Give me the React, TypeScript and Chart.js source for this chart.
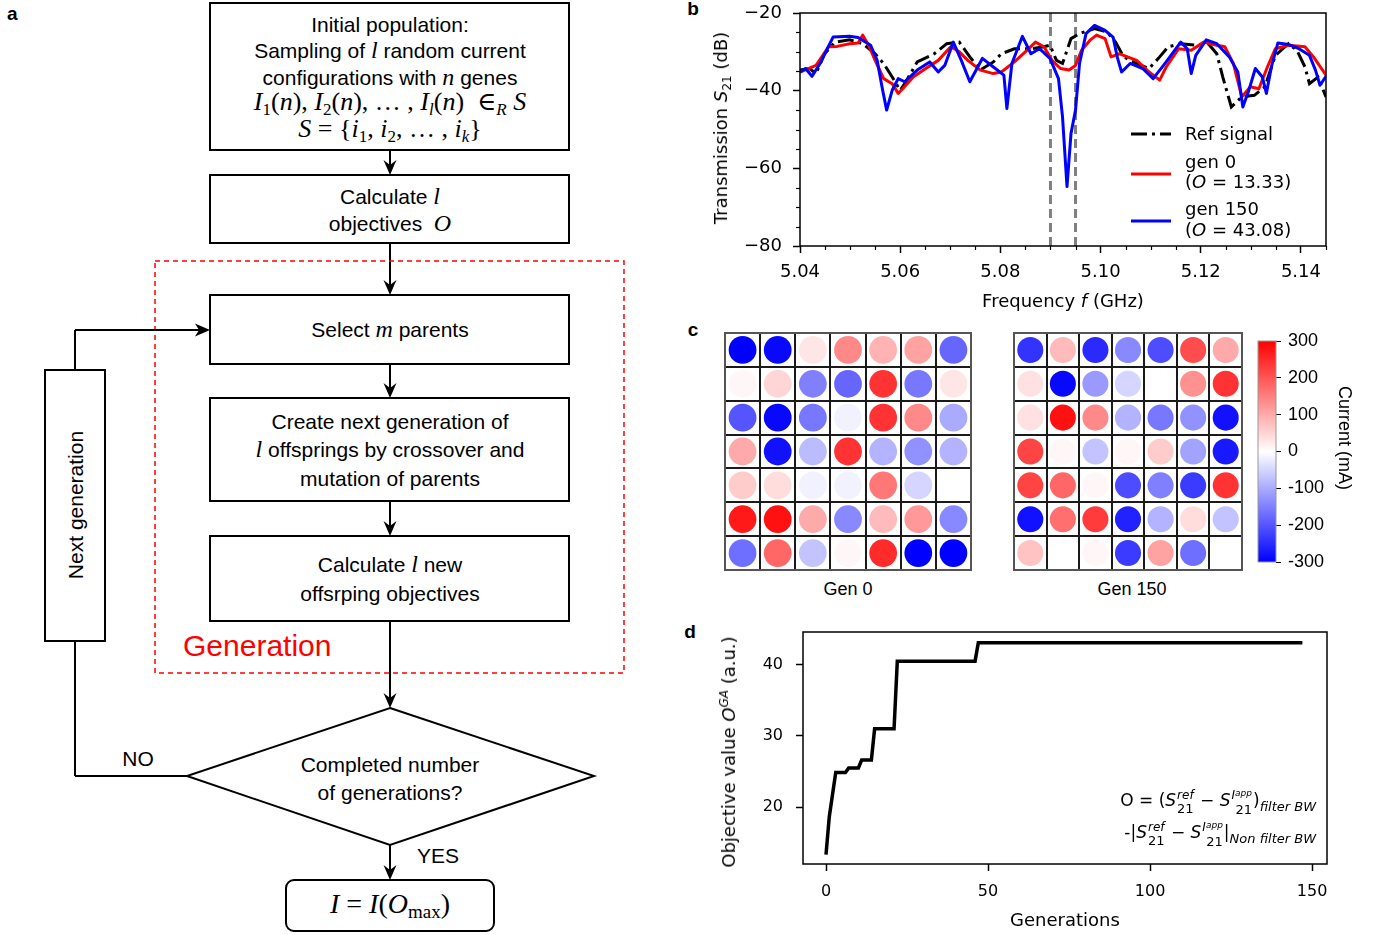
import React, { useEffect, useRef } from "react";
import { Chart, registerables } from "chart.js";
Chart.register(...registerables);

const DV = "'DejaVu Sans', 'Liberation Sans', sans-serif";
const AR = "'Liberation Sans', Arial, Helvetica, sans-serif";
const SERIF = "'Liberation Serif', 'DejaVu Serif', serif";

// ---------------- Panel b : transmission spectra ----------------
const refFreq = [5.04, 5.0419, 5.0432, 5.0449, 5.047, 5.0499, 5.0525, 5.055, 5.0567, 5.0584, 5.06, 5.0609, 5.0634, 5.0668, 5.0693, 5.0718, 5.0739, 5.076, 5.0786, 5.0802, 5.0828, 5.0861, 5.0887, 5.0899, 5.0912, 5.0924, 5.0941, 5.0958, 5.0988, 5.1013, 5.103, 5.1046, 5.1072, 5.1097, 5.1118, 5.1135, 5.116, 5.119, 5.1215, 5.1232, 5.1244, 5.1261, 5.1282, 5.1307, 5.1328, 5.1349, 5.1375, 5.1392, 5.1408, 5.1417, 5.1434, 5.145];
const refS21 = [-34.7, -34.3, -35.6, -30.5, -27.5, -26.9, -27.9, -30.5, -33.0, -36.5, -39.9, -38.2, -32.6, -30.5, -27.9, -27.5, -31.3, -34.7, -32.6, -30.5, -29.2, -29.2, -28.7, -28.3, -32.2, -33.0, -26.6, -25.3, -24.0, -24.9, -27.5, -31.3, -33.0, -34.3, -31.3, -28.7, -27.9, -28.3, -27.9, -30.5, -36.5, -44.2, -41.6, -41.2, -39.0, -30.9, -27.9, -29.6, -33.9, -38.2, -36.5, -41.6];

const gen0Freq = [5.04, 5.0432, 5.0457, 5.0474, 5.0499, 5.0516, 5.0525, 5.0537, 5.055, 5.0567, 5.0584, 5.0596, 5.0605, 5.0626, 5.0651, 5.0676, 5.0701, 5.0718, 5.0735, 5.076, 5.0786, 5.0802, 5.0828, 5.0853, 5.087, 5.0887, 5.0903, 5.092, 5.0937, 5.095, 5.0962, 5.0979, 5.0992, 5.1009, 5.1021, 5.1038, 5.1072, 5.1097, 5.1118, 5.1131, 5.1156, 5.1181, 5.1206, 5.1232, 5.1248, 5.1265, 5.1282, 5.1299, 5.1316, 5.1333, 5.1349, 5.1375, 5.1408, 5.1425, 5.145];
const gen0S21 = [-35.2, -33.5, -28.7, -28.6, -27.9, -27.7, -25.7, -28.3, -32.2, -36.9, -38.2, -40.7, -39.5, -36.5, -34.3, -32.2, -28.7, -30.0, -32.2, -34.7, -35.6, -35.2, -32.6, -29.6, -27.5, -28.7, -32.2, -34.3, -34.7, -33.5, -29.6, -27.0, -25.7, -26.6, -31.3, -30.5, -32.2, -35.2, -37.3, -33.9, -29.2, -29.6, -27.5, -28.3, -28.7, -33.0, -41.6, -39.0, -39.5, -33.9, -29.2, -28.3, -28.7, -31.3, -36.0];

const gen150Freq = [5.04, 5.0411, 5.0424, 5.044, 5.0466, 5.0499, 5.0516, 5.0541, 5.0554, 5.0565, 5.0573, 5.0584, 5.0596, 5.0609, 5.0634, 5.0659, 5.0676, 5.0689, 5.0706, 5.0722, 5.0739, 5.0764, 5.0786, 5.0807, 5.0813, 5.0823, 5.0844, 5.0861, 5.0878, 5.0899, 5.0916, 5.0924, 5.0933, 5.0941, 5.095, 5.0958, 5.0971, 5.0988, 5.1009, 5.1025, 5.1034, 5.1042, 5.1059, 5.1084, 5.1105, 5.1131, 5.116, 5.1173, 5.1181, 5.119, 5.1211, 5.1232, 5.1257, 5.1274, 5.1284, 5.1295, 5.1309, 5.1323, 5.1331, 5.1341, 5.1354, 5.1375, 5.1396, 5.1417, 5.1429, 5.1438, 5.145];
const gen150S21 = [-35.2, -34.3, -36.3, -33.0, -26.2, -26.0, -26.3, -28.3, -32.2, -39.9, -45.0, -39.9, -36.9, -37.7, -34.7, -32.6, -35.2, -33.5, -27.5, -32.2, -37.7, -31.7, -33.9, -36.0, -44.6, -33.0, -26.0, -30.5, -29.2, -31.7, -36.9, -46.7, -64.7, -51.0, -45.0, -33.0, -25.3, -23.2, -24.5, -26.2, -31.7, -35.2, -33.0, -34.3, -36.9, -32.6, -27.5, -29.2, -35.6, -30.9, -26.9, -27.9, -31.3, -35.2, -44.2, -40.3, -34.3, -36.5, -40.7, -33.9, -27.7, -28.1, -29.2, -30.9, -34.7, -38.6, -36.3];

const filterEdges = [5.09, 5.095];
const freqRange = [5.04, 5.145];
const freqTicks = [5.04, 5.06, 5.08, 5.1, 5.12, 5.14];
const s21Range = [-80, -20];
const s21Ticks = [-80, -60, -40, -20];
const legendNames = ["Ref signal", "gen 0", "gen 150"];
const legendScores = ["", "13.33", "43.08"];

// ---------------- Panel c : current maps (mA) ----------------
const gen0Currents = [
  [-300, -290, 30, 140, 90, 110, -180],
  [10, 50, -150, -180, 240, -160, 30],
  [-200, -290, -160, -15, 240, 140, -100],
  [100, -280, -80, 240, -90, -130, -90],
  [60, 40, -15, -15, 160, -50, 0],
  [270, 280, 100, -140, 80, 120, -140],
  [-170, 180, -70, 10, 250, -300, -300],
];
const gen150Currents = [
  [-240, 80, -250, -140, -210, 210, 100],
  [35, -290, -120, -50, 0, 130, 240],
  [35, 280, 140, -90, -160, -130, -280],
  [220, 10, -70, 10, 60, -110, -270],
  [220, 180, 10, -210, -150, -230, 240],
  [-280, 170, 230, -260, -90, 40, -70],
  [70, 0, 10, -230, 110, -170, 0],
];
const currentRange = [-300, 300];
const currentTicks = [-300, -200, -100, 0, 100, 200, 300];

// ---------------- Panel d : objective vs generation ----------------
const generations = [0, 1, 3, 6, 7, 10, 11, 14, 15, 21, 22, 46, 47, 147];
const objectiveValues = [13.33, 18.6, 24.85, 24.85, 25.5, 25.5, 26.6, 26.6, 31.0, 31.0, 40.5, 40.5, 43.08, 43.08];
const genRange = [-7.1, 154.6];
const genTicks = [0, 50, 100, 150];
const objRange = [12.0, 44.6];
const objTicks = [20, 30, 40];

// ---------------- helpers ----------------
const zip = (xs: number[], ys: number[]) => xs.map((x, i) => ({ x, y: ys[i] }));
const fmtMinus = (v: number) => (v < 0 ? "\u2212" + Math.abs(v) : String(v));
const refDash = [16, 5, 3, 5];

function zeroPad(s: any) {
  s.paddingTop = 0;
  s.paddingBottom = 0;
  s.paddingLeft = 0;
  s.paddingRight = 0;
}

function bwr(v: number) {
  const t = Math.max(-1, Math.min(1, v / currentRange[1]));
  if (t >= 0) {
    const c = Math.round(255 * (1 - t));
    return `rgb(255,${c},${c})`;
  }
  const c = Math.round(255 * (1 + t));
  return `rgb(${c},${c},255)`;
}

const framePlugin = (lw: number, color: string) => ({
  id: "frame",
  afterDatasetsDraw(chart: any) {
    const { ctx, chartArea: a } = chart;
    ctx.save();
    ctx.strokeStyle = color;
    ctx.lineWidth = lw;
    ctx.strokeRect(a.left, a.top, a.right - a.left, a.bottom - a.top);
    ctx.restore();
  },
});

const minorTicksPlugin = {
  id: "minorTicks",
  afterDraw(chart: any) {
    const { ctx, chartArea: a, scales } = chart;
    ctx.save();
    ctx.strokeStyle = "#000";
    ctx.lineWidth = 1.2;
    const ys = scales.y;
    for (let v = s21Range[0]; v <= s21Range[1]; v += 5) {
      if (s21Ticks.includes(v)) continue;
      const p = Math.round(ys.getPixelForValue(v)) + 0.5;
      ctx.beginPath();
      ctx.moveTo(a.left - 4, p);
      ctx.lineTo(a.left, p);
      ctx.stroke();
    }
    const xs = scales.x;
    for (let k = 0; k <= 21; k++) {
      if (k % 4 === 0) continue;
      const v = freqRange[0] + k * 0.005;
      const p = Math.round(xs.getPixelForValue(v)) + 0.5;
      ctx.beginPath();
      ctx.moveTo(p, a.bottom);
      ctx.lineTo(p, a.bottom + 4);
      ctx.stroke();
    }
    ctx.restore();
  },
};

const legendPlugin = {
  id: "legendB",
  afterDraw(chart: any) {
    const { ctx, chartArea: a } = chart;
    const lx0 = a.right - 195;
    const lx1 = a.right - 155;
    const tx = a.right - 141;
    const items = [
      { color: "#000", dash: refDash, ly: a.top + 121, lines: [a.top + 122] },
      { color: "#ff0000", dash: [], ly: a.top + 161, lines: [a.top + 150, a.top + 170] },
      { color: "#0000ff", dash: [], ly: a.top + 208, lines: [a.top + 197, a.top + 218] },
    ];
    ctx.save();
    ctx.textBaseline = "middle";
    ctx.fillStyle = "#000";
    items.forEach((it, i) => {
      ctx.strokeStyle = it.color;
      ctx.lineWidth = 3;
      ctx.setLineDash(it.dash);
      ctx.beginPath();
      ctx.moveTo(lx0, it.ly);
      ctx.lineTo(lx1, it.ly);
      ctx.stroke();
      ctx.setLineDash([]);
      ctx.font = `18px ${DV}`;
      ctx.fillText(legendNames[i], tx, it.lines[0]);
      if (legendScores[i]) {
        let x = tx;
        const y = it.lines[1];
        ctx.font = `18px ${DV}`;
        ctx.fillText("(", x, y);
        x += ctx.measureText("(").width;
        ctx.font = `italic 18px ${DV}`;
        ctx.fillText("O", x, y);
        x += ctx.measureText("O").width;
        ctx.font = `18px ${DV}`;
        ctx.fillText(` = ${legendScores[i]})`, x, y);
      }
    });
    ctx.restore();
  },
};

function gridDataset(values: number[][], factor: number) {
  const pts: any[] = [];
  values.forEach((row, r) =>
    row.forEach((v, c) => pts.push({ x: c + 0.5, y: values.length - r - 0.5, v }))
  );
  return {
    data: pts,
    showLine: false,
    pointStyle: "circle",
    pointBorderWidth: 0,
    pointBackgroundColor: (ctx: any) => bwr(ctx.raw ? ctx.raw.v : 0),
    pointBorderColor: (ctx: any) => bwr(ctx.raw ? ctx.raw.v : 0),
    pointRadius: (ctx: any) => {
      const a = ctx.chart.chartArea;
      if (!a) return 10;
      return (Math.min(a.right - a.left, a.bottom - a.top) / values.length) * factor;
    },
  };
}

function gridOptions() {
  const n = gen0Currents.length;
  const axis = (isX: boolean) => ({
    type: "linear",
    min: 0,
    max: n,
    ticks: { display: false, stepSize: 1 },
    grid: { color: "#1a1a1a", lineWidth: 2, drawTicks: false },
    border: { display: false },
    afterFit: (s: any) => {
      zeroPad(s);
      if (isX) s.height = 0;
      else s.width = 0;
    },
  });
  return {
    animation: false,
    responsive: false,
    devicePixelRatio: 1,
    layout: { padding: 2, autoPadding: false },
    plugins: { legend: { display: false }, tooltip: { enabled: false } },
    scales: { x: axis(true), y: axis(false) },
  };
}

// ---------------- small text helpers ----------------
const Stack = ({ sup, sub }: any) => (
  <span
    style={{
      display: "inline-flex",
      flexDirection: "column",
      verticalAlign: "7px",
      lineHeight: "13px",
      fontSize: 13,
      marginLeft: 1,
      marginRight: 1,
    }}
  >
    <span style={{ fontStyle: "italic", fontSize: 12 }}>{sup}</span>
    <span>{sub}</span>
  </span>
);

const Iapp = () => (
  <span>
    I<span style={{ fontSize: 9, position: "relative", top: -3 }}>app</span>
  </span>
);

const M = ({ children, size = 24 }: any) => (
  <tspan style={{ fontFamily: SERIF, fontStyle: "italic", fontSize: size }}>{children}</tspan>
);

function Flowchart() {
  const MS = 26;
  const ln = (x1: number, y1: number, x2: number, y2: number) => (
    <line x1={x1} y1={y1} x2={x2} y2={y2} stroke="#000" strokeWidth={2} />
  );
  const arrowDown = (x: number, y1: number, y2: number) => (
    <g>
      {ln(x, y1, x, y2 - 8)}
      <path d={`M${x - 6.5},${y2 - 15} L${x},${y2} L${x + 6.5},${y2 - 15} L${x},${y2 - 10} Z`} fill="#000" />
    </g>
  );
  const box = (x: number, y: number, w: number, h: number, rx = 0) => (
    <rect x={x} y={y} width={w} height={h} rx={rx} fill="none" stroke="#000" strokeWidth={2} />
  );
  const T = ({ y, children, size = 21, x = 390, fill = "#000", anchor = "middle" }: any) => (
    <text
      x={x}
      y={y + size * 0.36}
      textAnchor={anchor}
      fill={fill}
      style={{ fontFamily: AR, fontSize: size, whiteSpace: "pre" }}
    >
      {children}
    </text>
  );
  const sub = (s: string, italic = false) => (
    <tspan dy={5} style={{ fontSize: 17, fontStyle: italic ? "italic" : "normal", fontFamily: SERIF }}>
      {s}
    </tspan>
  );
  const up = (s: string) => (
    <tspan dy={-5} style={{ fontFamily: SERIF, fontSize: MS }}>
      {s}
    </tspan>
  );
  const rm = (s: string) => <tspan style={{ fontFamily: SERIF, fontSize: MS }}>{s}</tspan>;
  return (
    <svg width={640} height={935} style={{ position: "absolute", left: 0, top: 0 }}>
      <text x={7} y={20} style={{ fontFamily: AR, fontSize: 19, fontWeight: "bold" }}>
        a
      </text>
      {box(210, 3, 359, 147)}
      <T y={24}>Initial population:</T>
      <T y={50}>
        Sampling of <M>l</M> random current
      </T>
      <T y={77}>
        configurations with <M>n</M> genes
      </T>
      <T y={102}>
        <M size={MS}>I</M>
        {sub("1")}
        {up("(")}
        <M size={MS}>n</M>
        {rm("), ")}
        <M size={MS}>I</M>
        {sub("2")}
        {up("(")}
        <M size={MS}>n</M>
        {rm("), \u2026 , ")}
        <M size={MS}>I</M>
        {sub("l", true)}
        {up("(")}
        <M size={MS}>n</M>
        {rm(")  \u2208")}
        {sub("R", true)}
        {up(" ")}
        <M size={MS}>S</M>
      </T>
      <T y={129}>
        <M size={MS}>S</M>
        {rm(" = {")}
        <M size={MS}>i</M>
        {sub("1")}
        {up(", ")}
        <M size={MS}>i</M>
        {sub("2")}
        {up(", \u2026 , ")}
        <M size={MS}>i</M>
        {sub("k", true)}
        {up("}")}
      </T>
      {arrowDown(390, 150, 175)}
      {box(210, 175, 359, 68)}
      <T y={196}>
        Calculate <M>l</M>
      </T>
      <T y={223}>
        objectives  <M>O</M>
      </T>
      {arrowDown(390, 243, 295)}
      <rect x={155} y={261} width={469} height={412} fill="none" stroke="#ff0000" strokeWidth={1.5} strokeDasharray="5 4" />
      {box(210, 295, 359, 69)}
      <T y={329}>
        Select <M>m</M> parents
      </T>
      {arrowDown(390, 364, 398)}
      {box(210, 398, 359, 103)}
      <T y={421}>Create next generation of</T>
      <T y={449}>
        <M>l</M> offsprings by crossover and
      </T>
      <T y={478}>mutation of parents</T>
      {arrowDown(390, 501, 536)}
      {box(210, 536, 359, 85)}
      <T y={564}>
        Calculate <M>l</M> new
      </T>
      <T y={593}>offsrping objectives</T>
      <T y={645} x={183} anchor="start" size={30} fill="#ff0000">
        Generation
      </T>
      {arrowDown(390, 621, 708)}
      <polygon points="390,708 594,776 390,845 187,776" fill="none" stroke="#000" strokeWidth={2} />
      <T y={764}>Completed number</T>
      <T y={792}>of generations?</T>
      <T y={758} x={138}>
        NO
      </T>
      {arrowDown(390, 845, 880)}
      <T y={855} x={438}>
        YES
      </T>
      {box(286, 880, 208, 51, 8)}
      <T y={905}>
        <M size={28}>I</M>
        <tspan style={{ fontFamily: SERIF, fontSize: 28 }}> = </tspan>
        <M size={28}>I</M>
        <tspan style={{ fontFamily: SERIF, fontSize: 28 }}>(</tspan>
        <M size={28}>O</M>
        <tspan dy={5} style={{ fontFamily: SERIF, fontSize: 19 }}>
          max
        </tspan>
        <tspan dy={-5} style={{ fontFamily: SERIF, fontSize: 28 }}>
          )
        </tspan>
      </T>
      {/* feedback loop */}
      {ln(187, 776, 75, 776)}
      {ln(75, 776, 75, 641)}
      {box(45, 370, 60, 271)}
      {ln(75, 370, 75, 330)}
      {ln(75, 330, 202, 330)}
      <path d="M195,323.5 L210,330 L195,336.5 L199,330 Z" fill="#000" />
      <text
        transform="translate(75,505) rotate(-90)"
        x={0}
        y={7.5}
        textAnchor="middle"
        style={{ fontFamily: AR, fontSize: 21 }}
      >
        Next generation
      </text>
    </svg>
  );
}

export default function App() {
  const bRef = useRef<HTMLCanvasElement>(null);
  const c0Ref = useRef<HTMLCanvasElement>(null);
  const c150Ref = useRef<HTMLCanvasElement>(null);
  const cbRef = useRef<HTMLCanvasElement>(null);
  const dRef = useRef<HTMLCanvasElement>(null);

  useEffect(() => {
    const charts: Chart[] = [];
    const tickFont = (size: number) => ({ family: DV, size });

    // Panel b
    charts.push(
      new Chart(bRef.current as HTMLCanvasElement, {
        type: "line",
        data: {
          datasets: [
            { data: zip(gen150Freq, gen150S21), borderColor: "#0000ff", borderWidth: 3, pointRadius: 0, tension: 0, borderJoinStyle: "round" },
            { data: zip(gen0Freq, gen0S21), borderColor: "#ff0000", borderWidth: 3, pointRadius: 0, tension: 0, borderJoinStyle: "round" },
            { data: zip(refFreq, refS21), borderColor: "#000000", borderWidth: 3, borderDash: refDash, pointRadius: 0, tension: 0 },
            ...filterEdges.map((f) => ({
              data: [
                { x: f, y: s21Range[0] },
                { x: f, y: s21Range[1] },
              ],
              borderColor: "#808080",
              borderWidth: 3,
              borderDash: [9, 5],
              pointRadius: 0,
            })),
          ] as any,
        },
        options: {
          animation: false,
          responsive: false,
          devicePixelRatio: 1,
          layout: { padding: { top: 13, right: 24, left: 0, bottom: 0 } },
          plugins: { legend: { display: false }, tooltip: { enabled: false } },
          scales: {
            x: {
              type: "linear",
              min: freqRange[0],
              max: freqRange[1],
              afterBuildTicks: (s: any) => {
                s.ticks = freqTicks.map((v) => ({ value: v }));
              },
              afterFit: (s: any) => {
                zeroPad(s);
                s.height = 74;
              },
              ticks: { callback: (v: any) => Number(v).toFixed(2), font: tickFont(18), color: "#000", padding: 9, maxRotation: 0, autoSkip: false },
              grid: { drawOnChartArea: false, drawTicks: true, tickLength: 7, tickWidth: 1.5, tickColor: "#000" },
              border: { display: false },
            },
            y: {
              type: "linear",
              min: s21Range[0],
              max: s21Range[1],
              afterBuildTicks: (s: any) => {
                s.ticks = s21Ticks.map((v) => ({ value: v }));
              },
              afterFit: (s: any) => {
                zeroPad(s);
                s.width = 100;
              },
              ticks: { callback: (v: any) => fmtMinus(Number(v)), font: tickFont(18), color: "#000", padding: 11 },
              grid: { drawOnChartArea: false, drawTicks: true, tickLength: 7, tickWidth: 1.5, tickColor: "#000" },
              border: { display: false },
            },
          },
        } as any,
        plugins: [framePlugin(1.5, "#000"), minorTicksPlugin, legendPlugin] as any,
      })
    );

    // Panel c grids
    charts.push(
      new Chart(c0Ref.current as HTMLCanvasElement, {
        type: "scatter",
        data: { datasets: [gridDataset(gen0Currents, 0.41)] as any },
        options: gridOptions() as any,
        plugins: [framePlugin(2, "#555")] as any,
      })
    );
    charts.push(
      new Chart(c150Ref.current as HTMLCanvasElement, {
        type: "scatter",
        data: { datasets: [gridDataset(gen150Currents, 0.4)] as any },
        options: gridOptions() as any,
        plugins: [framePlugin(2, "#555")] as any,
      })
    );

    // Colorbar
    charts.push(
      new Chart(cbRef.current as HTMLCanvasElement, {
        type: "bar",
        data: {
          labels: ["current"],
          datasets: [
            {
              data: [[currentRange[0], currentRange[1]]],
              barPercentage: 1,
              categoryPercentage: 1,
              borderWidth: 0,
              backgroundColor: (ctx: any) => {
                const a = ctx.chart.chartArea;
                if (!a) return "#fff";
                const g = ctx.chart.ctx.createLinearGradient(0, a.bottom, 0, a.top);
                g.addColorStop(0, bwr(currentRange[0]));
                g.addColorStop(0.5, bwr(0));
                g.addColorStop(1, bwr(currentRange[1]));
                return g;
              },
            },
          ] as any,
        },
        options: {
          animation: false,
          responsive: false,
          devicePixelRatio: 1,
          layout: { padding: { left: 8, top: 11, bottom: 18, right: 0 } },
          plugins: { legend: { display: false }, tooltip: { enabled: false } },
          scales: {
            x: { display: false },
            y: {
              position: "right",
              min: currentRange[0],
              max: currentRange[1],
              afterBuildTicks: (s: any) => {
                s.ticks = currentTicks.map((v) => ({ value: v }));
              },
              afterFit: (s: any) => {
                zeroPad(s);
                s.width = 74;
              },
              ticks: { font: { family: AR, size: 18 }, color: "#000", padding: 7, callback: (v: any) => String(v) },
              grid: { drawOnChartArea: false, drawTicks: true, tickLength: 5, tickWidth: 1, tickColor: "#000" },
              border: { display: false },
            },
          },
        } as any,
        plugins: [framePlugin(1, "#999")] as any,
      })
    );

    // Panel d
    charts.push(
      new Chart(dRef.current as HTMLCanvasElement, {
        type: "line",
        data: {
          datasets: [
            { data: zip(generations, objectiveValues), borderColor: "#000", borderWidth: 3.5, pointRadius: 0, tension: 0, borderJoinStyle: "miter" },
          ] as any,
        },
        options: {
          animation: false,
          responsive: false,
          devicePixelRatio: 1,
          layout: { padding: { top: 12, right: 23, left: 0, bottom: 0 } },
          plugins: { legend: { display: false }, tooltip: { enabled: false } },
          scales: {
            x: {
              type: "linear",
              min: genRange[0],
              max: genRange[1],
              afterBuildTicks: (s: any) => {
                s.ticks = genTicks.map((v) => ({ value: v }));
              },
              afterFit: (s: any) => {
                zeroPad(s);
                s.height = 71;
              },
              ticks: { font: tickFont(16), color: "#000", padding: 11, maxRotation: 0, autoSkip: false },
              grid: { drawOnChartArea: false, drawTicks: true, tickLength: 7, tickWidth: 1.5, tickColor: "#000" },
              border: { display: false },
            },
            y: {
              type: "linear",
              min: objRange[0],
              max: objRange[1],
              afterBuildTicks: (s: any) => {
                s.ticks = objTicks.map((v) => ({ value: v }));
              },
              afterFit: (s: any) => {
                zeroPad(s);
                s.width = 103;
              },
              ticks: { font: tickFont(16), color: "#000", padding: 13 },
              grid: { drawOnChartArea: false, drawTicks: true, tickLength: 7, tickWidth: 1.5, tickColor: "#000" },
              border: { display: false },
            },
          },
        } as any,
        plugins: [framePlugin(1.5, "#000")] as any,
      })
    );

    return () => charts.forEach((c) => c.destroy());
  }, []);

  const abs = (left: number, top: number, extra: any = {}) => ({ position: "absolute" as const, left, top, ...extra });
  const centered = (x: number, y: number, rot = 0, font = DV, size = 18) => ({
    position: "absolute" as const,
    left: x,
    top: y,
    transform: `translate(-50%, -50%)${rot ? ` rotate(${rot}deg)` : ""}`,
    whiteSpace: "nowrap" as const,
    fontFamily: font,
    fontSize: size,
    lineHeight: "22px",
    color: "#000",
  });
  const letter = (x: number, y: number, ch: string) => (
    <div style={{ ...centered(x, y, 0, AR, 19), fontWeight: "bold" }}>{ch}</div>
  );

  return (
    <div style={{ position: "fixed", left: 0, top: 0, width: 1380, height: 935, background: "#fff", overflow: "hidden" }}>
      <Flowchart />
      {letter(693, 9, "b")}
      {letter(693, 330, "c")}
      {letter(690, 632, "d")}

      <canvas ref={bRef} width={650} height={320} style={abs(700, 0, { display: "block" })} />
      <div style={centered(722, 128, -90)}>
        Transmission <i>S</i>
        <span style={{ fontSize: 12, position: "relative", top: 4 }}>21</span> (dB)
      </div>
      <div style={centered(1063, 301)}>
        Frequency <i>f</i> (GHz)
      </div>

      <canvas ref={c0Ref} width={250} height={241} style={abs(723, 331, { display: "block" })} />
      <canvas ref={c150Ref} width={232} height={241} style={abs(1012, 331, { display: "block" })} />
      <canvas ref={cbRef} width={100} height={250} style={abs(1250, 330, { display: "block" })} />
      <div style={centered(848, 589, 0, AR)}>Gen 0</div>
      <div style={centered(1132, 589, 0, AR)}>Gen 150</div>
      <div style={centered(1345, 438, 90, AR)}>Current (mA)</div>

      <canvas ref={dRef} width={650} height={315} style={abs(700, 620, { display: "block" })} />
      <div style={centered(730, 752, -90)}>
        Objective value <i>O</i>
        <span style={{ fontSize: 12, fontStyle: "italic", position: "relative", top: -7 }}>GA</span> (a.u.)
      </div>
      <div style={centered(1065, 920)}>Generations</div>
      <div style={{ position: "absolute", right: 64, top: 785, fontFamily: DV, fontSize: 17, whiteSpace: "nowrap", lineHeight: "30px", textAlign: "right" }}>
        <div>
          O = (<i>S</i>
          <Stack sup="ref" sub="21" /> {"\u2212"} <i>S</i>
          <Stack sup={<Iapp />} sub="21" />)
          <span style={{ fontSize: 13, fontStyle: "italic", position: "relative", top: 5 }}>filter BW</span>
        </div>
        <div>
          -|<i>S</i>
          <Stack sup="ref" sub="21" /> {"\u2212"} <i>S</i>
          <Stack sup={<Iapp />} sub="21" />|
          <span style={{ fontSize: 13, fontStyle: "italic", position: "relative", top: 5 }}>Non filter BW</span>
        </div>
      </div>
    </div>
  );
}
